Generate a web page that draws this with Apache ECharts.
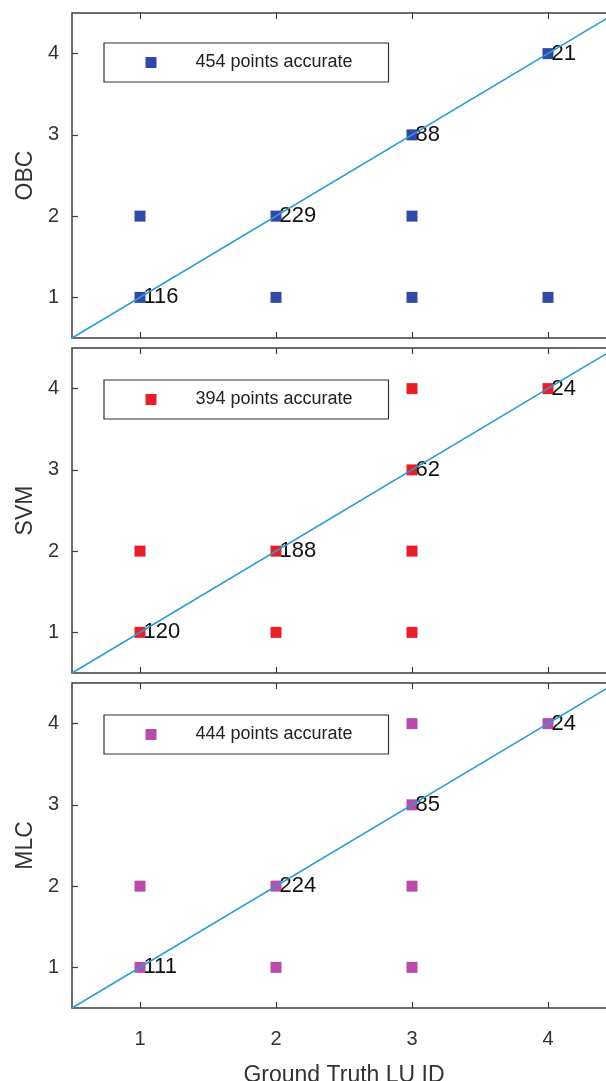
<!DOCTYPE html>
<html>
<head>
<meta charset="utf-8">
<script src="https://cdn.jsdelivr.net/npm/echarts@6/dist/echarts.min.js"></script>
<style>
html,body{margin:0;padding:0;background:#fff;}
#chart{width:606px;height:1081px;}
</style>
</head>
<body>
<div id="chart"></div>
<script>
// ---- data ----
const xTicks = [1, 2, 3, 4];
const yTicks = [1, 2, 3, 4];
const panelNames = ['OBC', 'SVM', 'MLC'];
const legendTexts = ['454 points accurate', '394 points accurate', '444 points accurate'];
const xAxisName = 'Ground Truth LU ID';
// [ground truth, predicted, count label on diagonal]
const obcPoints = [[1,1,116],[1,2,null],[2,1,null],[2,2,229],[3,1,null],[3,2,null],[3,3,88],[4,1,null],[4,4,21]];
const svmPoints = [[1,1,120],[1,2,null],[2,1,null],[2,2,188],[3,1,null],[3,2,null],[3,3,62],[3,4,null],[4,4,24]];
const mlcPoints = [[1,1,111],[1,2,null],[2,1,null],[2,2,224],[3,1,null],[3,2,null],[3,3,85],[3,4,null],[4,4,24]];
const diagLine = [[0.5,0.5],[4.5,4.5]];
const axisMin = 0.5, axisMax = 4.5;

// ---- styles / layout ----
const panelData = [obcPoints, svmPoints, mlcPoints];
const colors = ['#3049a6', '#e91f28', '#b74cab'];
const gridTops = [13, 348, 683];
const legendTops = [43, 380, 715];
const gridH = 325, gridLeft = 72, gridW = 544;
const FONT = 'Liberation Sans, Arial, sans-serif';
const axisCol = '#3c3c3c';

const chart = echarts.init(document.getElementById('chart'), null, {renderer: 'canvas'});

const grid = [], xAxis = [], yAxis = [], series = [], legend = [];
panelNames.forEach((nm, i) => {
  grid.push({left: gridLeft, top: gridTops[i], width: gridW, height: gridH,
    outerBoundsMode: 'none', containLabel: false,
    show: true, borderColor: axisCol, borderWidth: 1.5, backgroundColor: 'transparent'});
  const last = i === panelNames.length - 1;
  xAxis.push({type: 'value', gridIndex: i, min: axisMin, max: axisMax, position: 'bottom',
    name: last ? xAxisName : '', nameLocation: 'middle', nameGap: 56,
    nameTextStyle: {fontFamily: FONT, fontSize: 23, color: '#333'},
    axisLine: {show: false}, splitLine: {show: false},
    axisTick: {show: true, inside: true, length: 6, customValues: xTicks, lineStyle: {color: axisCol, width: 1.2}},
    axisLabel: {show: last, customValues: xTicks, margin: 21, fontFamily: FONT, fontSize: 20, color: '#333'}});
  xAxis.push({type: 'value', gridIndex: i, min: axisMin, max: axisMax, position: 'top',
    axisLine: {show: false}, splitLine: {show: false},
    axisTick: {show: true, inside: true, length: 6, customValues: xTicks, lineStyle: {color: axisCol, width: 1.2}},
    axisLabel: {show: false}});
  yAxis.push({type: 'value', gridIndex: i, min: axisMin, max: axisMax, position: 'left',
    name: nm, nameLocation: 'middle', nameGap: 33.5, nameRotate: 90,
    nameTextStyle: {fontFamily: FONT, fontSize: 23, color: '#333'},
    axisLine: {show: false}, splitLine: {show: false},
    axisTick: {show: true, inside: true, length: 6, customValues: yTicks, lineStyle: {color: axisCol, width: 1.2}},
    axisLabel: {customValues: yTicks, margin: 13, fontFamily: FONT, fontSize: 20, color: '#333'}});
  series.push({type: 'scatter', name: legendTexts[i], xAxisIndex: 2 * i, yAxisIndex: i,
    data: panelData[i], symbol: 'rect', symbolSize: 11,
    itemStyle: {color: colors[i], opacity: 1},
    label: {show: true, position: 'right', distance: -2,
      formatter: p => (p.value[2] == null ? '' : String(p.value[2])),
      fontFamily: FONT, fontSize: 22, color: '#111'},
    z: 2});
  series.push({type: 'line', name: 'diag' + i, xAxisIndex: 2 * i, yAxisIndex: i,
    data: diagLine, symbol: 'none', silent: true,
    lineStyle: {color: '#2b9ad6', width: 1.5}, z: 3});
  legend.push({data: [{name: legendTexts[i], icon: 'rect', itemStyle: {opacity: 1}}], left: 104, top: legendTops[i],
    orient: 'horizontal', itemWidth: 11, itemHeight: 11,
    borderColor: '#333', borderWidth: 1.2, backgroundColor: '#fff',
    padding: [9.5, 20, 9.5, 41.5], selectedMode: false,
    textStyle: {fontFamily: FONT, fontSize: 18, color: '#222', width: 173, lineHeight: 20,
      padding: [0, 0, 0, 34], overflow: 'none'}});
});

chart.setOption({animation: false, grid, xAxis, yAxis, series, legend});
</script>
</body>
</html>
